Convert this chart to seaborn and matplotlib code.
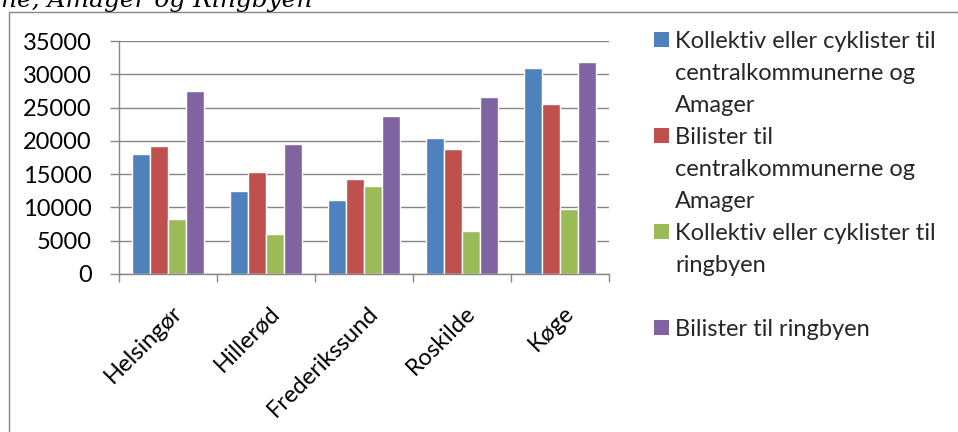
import numpy as np
import pandas as pd
import matplotlib
matplotlib.use("Agg")
import matplotlib.pyplot as plt
import seaborn as sns
from matplotlib.patches import Rectangle
from matplotlib.lines import Line2D
from matplotlib.ticker import FixedLocator
from matplotlib.transforms import ScaledTranslation

# --- data -------------------------------------------------------------
byer = ["Helsingør", "Hillerød", "Frederikssund", "Roskilde", "Køge"]
serier = [
    "Kollektiv eller cyklister til centralkommunerne og Amager",
    "Bilister til centralkommunerne og Amager",
    "Kollektiv eller cyklister til ringbyen",
    "Bilister til ringbyen",
]
kollektiv_central = [18000, 12500, 11100, 20500, 31000]
bilister_central = [19200, 15300, 14200, 18800, 25500]
kollektiv_ring = [8200, 6000, 13200, 6400, 9800]
bilister_ring = [27500, 19600, 23800, 26600, 31800]
y_ticks = [0, 5000, 10000, 15000, 20000, 25000, 30000, 35000]

# legend text, wrapped the way the legend box shows it
legend_linjer = [
    ["Kollektiv eller cyklister til", "centralkommunerne og", "Amager"],
    ["Bilister til", "centralkommunerne og", "Amager"],
    ["Kollektiv eller cyklister til", "ringbyen", " "],
    ["Bilister til ringbyen"],
]
titel = "ne, Amager og Ringbyen"

farver = ["#4F81BD", "#C0504D", "#9BBB59", "#8064A2"]
GRAA = "#868686"

# --- figure -----------------------------------------------------------
W, H, DPI = 958, 432, 100
FS = 17

sns.set_theme(style="white")
plt.rcParams["font.family"] = ["Lato", "DejaVu Sans"]

fig = plt.figure(figsize=(W / DPI, H / DPI), dpi=DPI)
fig.patch.set_facecolor("white")
ax = fig.add_axes([119 / W, 1 - 274 / H, (609 - 119) / W, (274 - 41) / H])

df = pd.DataFrame({
    "by": byer * 4,
    "serie": np.repeat(serier, len(byer)),
    "antal": kollektiv_central + bilister_central + kollektiv_ring + bilister_ring,
})

sns.barplot(data=df, x="by", y="antal", hue="serie", order=byer,
            hue_order=serier, palette=farver, saturation=1, width=0.73,
            errorbar=None, legend=False, ax=ax, zorder=2)

ax.set_xlabel("")
ax.set_ylabel("")
ax.set_xlim(-0.5, 4.5)
ax.set_ylim(0, 35000)
ax.set_yticks(y_ticks)
ax.set_yticklabels([str(v) for v in y_ticks])
ax.yaxis.grid(True, color=GRAA, lw=1.0)
ax.set_axisbelow(True)
for side in ("top", "right"):
    ax.spines[side].set_visible(False)
for side in ("left", "bottom"):
    ax.spines[side].set_color(GRAA)
    ax.spines[side].set_linewidth(1.0)

ax.tick_params(axis="y", left=True, direction="out", length=6.5, width=1.0,
               color=GRAA, pad=13, labelsize=FS, labelcolor="black")
ax.set_xticks(range(len(byer)))
ax.set_xticklabels([])
ax.tick_params(axis="x", which="major", length=0)
ax.xaxis.set_minor_locator(FixedLocator(np.arange(-0.5, len(byer), 1.0)))
ax.tick_params(axis="x", which="minor", bottom=True, direction="out",
               length=5.8, width=1.0, color=GRAA)

# rotated category labels below the axis
forskyd = ScaledTranslation(15 / DPI, -40 / DPI, fig.dpi_scale_trans)
for i, by in enumerate(byer):
    ax.text(i, 0, by, transform=ax.get_xaxis_transform() + forskyd,
            rotation=45, rotation_mode="anchor", ha="right", va="baseline",
            fontsize=FS, color="black")

# legend: one row per text line, a colour square on the first line of each entry
handles, labels = [], []
for farve, linjer in zip(farver, legend_linjer):
    for j, linje in enumerate(linjer):
        if j == 0:
            handles.append(Rectangle((0, 0), 1, 1, facecolor=farve, edgecolor="none"))
        else:
            handles.append(Rectangle((0, 0), 1, 1, facecolor="none", edgecolor="none"))
        labels.append(linje)
fig.legend(handles, labels, loc="center left",
           bbox_to_anchor=(654 / W, 1 - 185.5 / H), frameon=False,
           borderpad=0, borderaxespad=0, handlelength=0.63, handleheight=0.6,
           handletextpad=0.26, labelspacing=0.465, fontsize=FS)

# outer chart-area border (left and top edges)
fig.add_artist(Line2D([8.5 / W, 8.5 / W], [0, 1 - 12 / H], color=GRAA, lw=1.0,
                      transform=fig.transFigure))
fig.add_artist(Line2D([8.5 / W, 1], [1 - 12 / H, 1 - 12 / H], color=GRAA, lw=1.0,
                      transform=fig.transFigure))

# heading text above the chart area, fitted to its width
t = fig.text(312 / W, 1 - 7 / H, titel, ha="right", va="baseline",
             fontfamily="DejaVu Serif", style="italic", fontsize=16, color="black")
fig.canvas.draw()
bredde = t.get_window_extent().width
t.set_fontsize(16 * 312 / bredde)

fig.savefig("out.png", dpi=DPI, facecolor="white")
